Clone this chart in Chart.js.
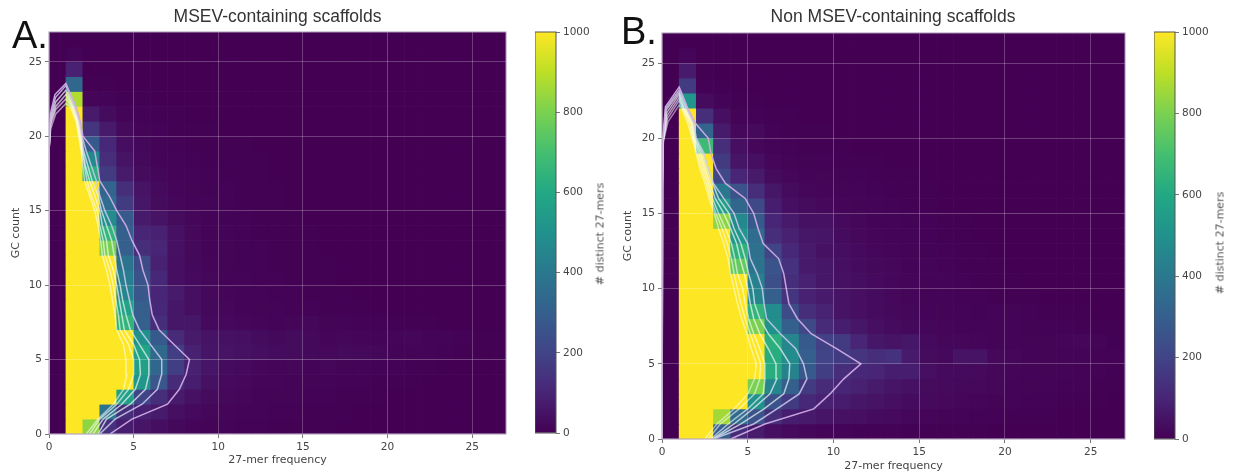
<!DOCTYPE html>
<html>
<head>
<meta charset="utf-8">
<title>27-mer frequency vs GC count</title>
<script src="https://cdn.jsdelivr.net/npm/chart.js@4"></script>
<style>
  body { margin: 0; background: #fff; width: 1233px; height: 476px; overflow: hidden; position: relative; }
  canvas { position: absolute; top: 0; filter: blur(0.65px); }
  .panel { position: absolute; font-family: "Liberation Sans", sans-serif; font-size: 38px; line-height: 38px; color: #111; z-index: 5; }
  .cbar { position: absolute; font-family: "DejaVu Sans", sans-serif; font-size: 11px; color: #555; white-space: nowrap; transform: translate(-50%, -50%) rotate(-90deg); }
</style>
</head>
<body>
<canvas id="heatA" style="left:0;width:555px;height:476px"></canvas>
<canvas id="heatB" style="left:620px;width:546px;height:476px"></canvas>
<canvas id="barA" style="left:535px;width:60px;height:476px"></canvas>
<canvas id="barB" style="left:1154px;width:60px;height:476px"></canvas>
<div class="panel" style="left:12px;top:16px">A.</div>
<div class="panel" style="left:621px;top:12px">B.</div>
<div class="cbar" style="left:600px;top:234px"># distinct 27-mers</div>
<div class="cbar" style="left:1220px;top:243px"># distinct 27-mers</div>
<script>
const xTicks = [0, 5, 10, 15, 20, 25];
const yTicks = [0, 5, 10, 15, 20, 25];
const colorTicks = [0, 200, 400, 600, 800, 1000];
const viridis = ["#440154", "#482576", "#414487", "#355f8d", "#2a788e", "#21918c", "#22a884", "#44bf70", "#7ad151", "#bddf26", "#fde725"];

// rows are GC count 0..26, columns 27-mer frequency 0..26, missing cells are 0
const Y = 1200;
const heatA = [
  [0, Y, 830, 140, 80, 55, 35, 22, 14, 10, 8, 6, 5, 4, 3, 2, 2, 1, 1],
  [0, Y, Y, 380, 130, 90, 70, 40, 25, 18, 14, 10, 8, 6, 5, 4, 3, 2, 1, 1],
  [0, Y, Y, Y, 560, 200, 130, 70, 45, 30, 22, 16, 12, 10, 8, 6, 5, 4, 3, 2, 1, 1],
  [0, Y, Y, Y, Y, 520, 270, 120, 80, 45, 25, 20, 15, 14, 12, 10, 8, 6, 5, 4, 3, 2, 1],
  [0, Y, Y, Y, Y, 560, 330, 180, 90, 55, 30, 25, 18, 14, 16, 12, 18, 10, 8, 6, 5, 4, 2, 1],
  [0, Y, Y, Y, Y, 580, 340, 180, 90, 55, 50, 45, 35, 28, 30, 22, 20, 24, 22, 16, 12, 10, 8, 6, 4, 3, 2],
  [0, Y, Y, Y, Y, 500, 280, 120, 70, 50, 45, 40, 30, 22, 30, 22, 14, 16, 14, 12, 14, 16, 10, 8, 6, 4, 2],
  [0, Y, Y, Y, 650, 300, 130, 60, 60, 25, 20, 18, 14, 12, 14, 18, 10, 8, 6, 5, 4, 3, 2, 1],
  [0, Y, Y, Y, 580, 300, 110, 60, 40, 22, 16, 12, 10, 8, 6, 5, 4, 3, 2, 1, 1],
  [0, Y, Y, Y, 450, 270, 100, 70, 40, 20, 14, 10, 8, 6, 5, 4, 3, 2, 1, 1],
  [0, Y, Y, Y, 420, 260, 110, 40, 25, 16, 12, 8, 6, 5, 4, 3, 2, 1, 1],
  [0, Y, Y, Y, 380, 230, 90, 40, 22, 14, 10, 7, 5, 4, 3, 2, 2, 1],
  [0, Y, Y, 800, 300, 130, 100, 45, 22, 12, 10, 7, 5, 4, 3, 2, 1, 1],
  [0, Y, Y, 650, 300, 100, 90, 45, 20, 10, 8, 6, 4, 3, 2, 2, 1],
  [0, Y, Y, 480, 280, 70, 50, 30, 16, 9, 7, 5, 3, 2, 2, 1],
  [0, Y, Y, 350, 170, 60, 30, 18, 12, 8, 6, 4, 3, 2, 1, 1],
  [0, Y, Y, 320, 130, 50, 24, 14, 10, 7, 5, 4, 3, 2, 1],
  [0, Y, 630, 170, 70, 30, 16, 12, 8, 5, 4, 3, 2, 1],
  [0, Y, 470, 130, 50, 22, 12, 8, 6, 4, 3, 2, 2, 1, 1],
  [0, Y, 280, 110, 36, 16, 8, 6, 4, 3, 2, 2, 1, 1],
  [0, Y, 150, 70, 24, 10, 6, 4, 3, 2, 1, 1],
  [0, Y, 70, 30, 10, 5, 3, 2, 1, 1],
  [0, 880, 15, 8, 4, 2, 1, 1],
  [0, 330, 4, 2, 1],
  [0, 90, 1],
  [0, 8],
  [0]
];
const heatB = [
  [0, Y, Y, 300, 120, 70, 40, 25, 16, 12, 9, 7, 6, 5, 4, 3, 3, 2, 2, 1, 1],
  [0, Y, Y, 860, 350, 250, 130, 80, 70, 55, 45, 40, 30, 25, 18, 14, 10, 8, 6, 5, 4, 3, 2, 1, 1],
  [0, Y, Y, Y, Y, 500, 250, 170, 110, 90, 75, 60, 50, 40, 30, 24, 20, 16, 14, 10, 8, 6, 5, 4, 3, 2, 1],
  [0, Y, Y, Y, Y, 800, 460, 300, 170, 120, 100, 90, 70, 55, 45, 30, 24, 22, 20, 16, 12, 10, 8, 6, 5, 4, 3],
  [0, Y, Y, Y, Y, Y, 620, 440, 280, 180, 130, 110, 100, 80, 80, 40, 25, 24, 24, 18, 14, 12, 10, 8, 6, 5, 4],
  [0, Y, Y, Y, Y, Y, 620, 480, 300, 200, 170, 150, 130, 140, 70, 30, 22, 50, 50, 20, 16, 12, 10, 9, 8, 6, 5],
  [0, Y, Y, Y, Y, Y, 630, 450, 280, 190, 170, 100, 60, 50, 60, 25, 18, 16, 14, 12, 12, 10, 10, 14, 18, 8, 4],
  [0, Y, Y, Y, Y, 800, 500, 300, 220, 120, 80, 60, 40, 30, 22, 18, 14, 12, 10, 9, 8, 7, 6, 5, 4, 3, 2],
  [0, Y, Y, Y, Y, 650, 480, 230, 130, 95, 50, 40, 30, 22, 16, 12, 10, 8, 7, 8, 10, 6, 4, 3, 2, 1, 1],
  [0, Y, Y, Y, Y, 450, 300, 150, 90, 70, 50, 40, 28, 20, 14, 10, 8, 6, 5, 4, 3, 2, 1, 1],
  [0, Y, Y, Y, Y, 430, 240, 130, 90, 60, 45, 35, 25, 18, 14, 10, 8, 6, 4, 3, 2, 1, 1],
  [0, Y, Y, Y, 760, 380, 260, 140, 70, 60, 40, 30, 22, 16, 12, 8, 6, 4, 3, 2, 1, 1],
  [0, Y, Y, Y, 640, 370, 200, 110, 70, 45, 35, 25, 18, 14, 10, 7, 5, 3, 2, 1],
  [0, Y, Y, Y, 520, 350, 130, 90, 60, 55, 30, 20, 14, 10, 8, 5, 3, 2, 1],
  [0, Y, Y, 830, 470, 280, 100, 70, 45, 45, 24, 16, 12, 9, 7, 5, 3, 2, 1],
  [0, Y, Y, 550, 330, 220, 80, 40, 30, 20, 14, 10, 8, 5, 4, 2, 1, 1],
  [0, Y, Y, 400, 250, 130, 60, 30, 18, 14, 10, 8, 6, 4, 3, 2, 1],
  [0, Y, Y, 220, 100, 70, 30, 18, 12, 10, 7, 5, 4, 3, 2, 1],
  [0, Y, Y, 170, 55, 40, 16, 10, 7, 5, 4, 3, 2, 1, 1],
  [0, Y, 680, 130, 40, 16, 8, 6, 4, 3, 2, 1, 1],
  [0, Y, 320, 70, 20, 24, 5, 4, 3, 2, 1],
  [0, Y, 130, 40, 10, 6, 3, 2, 1],
  [0, 520, 30, 12, 4, 2, 1],
  [0, 170, 6, 3, 1],
  [0, 70, 2],
  [0, 15],
  [0]
];

// contour x at GC count 0..22, then the tip and left edge as [x, y]
const contoursA = [
  { x: [3.6, 4.9, 7, 7.7, 8.1, 8.3, 7.4, 6.5, 6.1, 5.95, 5.85, 5.55, 5.35, 4.9, 4.55, 4, 3.55, 3, 2.85, 2.7, 2, 1.85, 1.6], tip: [[1.2, 23], [1, 23.55], [0.35, 22.8], [0.08, 21.5], [0, 19], [0, 0]] },
  { x: [3, 3.9, 5.5, 6.4, 6.65, 6.66, 6, 5.35, 4.95, 4.75, 4.55, 4.4, 4.2, 4, 3.7, 3.3, 3, 2.8, 2.5, 2.2, 1.95, 1.8, 1.5], tip: [[1.15, 23], [1, 23.4], [0.38, 22.6], [0.1, 21.3], [0, 19], [0, 0]] },
  { x: [2.9, 3.4, 4.8, 5.7, 5.9, 5.9, 5.35, 4.8, 4.55, 4.35, 4.2, 4, 3.85, 3.7, 3.4, 3.1, 2.9, 2.55, 2.3, 2.05, 1.9, 1.75, 1.45], tip: [[1, 23.1], [0.4, 22.3], [0.1, 21.2], [0, 19], [0, 0]] },
  { x: [2.6, 3.2, 4.3, 5.1, 5.4, 5.35, 5, 4.45, 4.3, 4.15, 4, 3.8, 3.5, 3.4, 3.15, 3, 2.7, 2.4, 2.15, 2, 1.85, 1.7, 1.4], tip: [[1, 22.8], [0.4, 22], [0.1, 21], [0, 19], [0, 0]] },
  { x: [2.4, 3, 4, 4.7, 5, 5, 4.7, 4.2, 4.1, 3.95, 3.8, 3.6, 3.3, 3.2, 3, 2.85, 2.5, 2.25, 2.1, 1.95, 1.8, 1.65, 1.35], tip: [[1, 22.5], [0.4, 21.8], [0.1, 20.8], [0, 19], [0, 0]] },
  { x: [2.2, 2.9, 3.8, 4.4, 4.6, 4.55, 4.4, 4, 3.9, 3.75, 3.6, 3.4, 3.15, 3.05, 2.9, 2.7, 2.4, 2.1, 2, 1.9, 1.75, 1.6, 1.25], tip: [[1, 22.2], [0.4, 21.5], [0.1, 20.5], [0, 19], [0, 0]] }
];
const contoursB = [
  { x: [4, 6, 8.85, 9.8, 10.6, 11.6, 10.2, 8.7, 7.9, 7.4, 7.25, 7.1, 6.8, 5.9, 5.6, 5.35, 4.85, 3.7, 3.15, 2.85, 2.7, 1.95, 1.5], tip: [[1.15, 23], [1, 23.4], [0.2, 22.1], [0.04, 19.8], [0, 16], [0, 0]] },
  { x: [3, 5.35, 6.7, 8, 8.45, 8.25, 7.8, 6.9, 6.1, 5.95, 5.85, 5.55, 5.15, 5, 4.5, 4.2, 3.6, 3, 2.7, 2.45, 2, 1.85, 1.45], tip: [[1.1, 23], [1, 23.2], [0.22, 22], [0.05, 19.8], [0, 16], [0, 0]] },
  { x: [3, 4.6, 5.95, 7.1, 7.4, 7.45, 6.9, 6.2, 5.7, 5.4, 5.3, 5.05, 4.85, 4.6, 4.2, 3.9, 3.3, 2.95, 2.6, 2.35, 1.95, 1.8, 1.4], tip: [[1, 23.05], [0.25, 21.9], [0.05, 19.8], [0, 16], [0, 0]] },
  { x: [2.95, 4.2, 5.3, 6.3, 6.7, 6.65, 6.2, 5.7, 5.35, 5.15, 5, 4.8, 4.55, 4.35, 4, 3.6, 3.1, 2.8, 2.5, 2.25, 1.9, 1.75, 1.3], tip: [[1, 22.9], [0.28, 21.7], [0.06, 19.8], [0, 16], [0, 0]] },
  { x: [2.85, 3.85, 5, 5.9, 6, 6, 5.7, 5.35, 5.05, 4.85, 4.7, 4.4, 4.25, 4.05, 3.7, 3.3, 2.95, 2.7, 2.4, 2.15, 1.85, 1.7, 1.25], tip: [[1, 22.7], [0.3, 21.5], [0.06, 19.8], [0, 16], [0, 0]] },
  { x: [2.7, 3.4, 4.5, 5.4, 5.7, 5.75, 5.45, 5.15, 4.85, 4.6, 4.4, 4.2, 4.05, 3.8, 3.5, 3.15, 2.85, 2.6, 2.3, 2.05, 1.8, 1.6, 1.2], tip: [[1, 22.5], [0.32, 21.3], [0.08, 19.8], [0, 16], [0, 0]] },
  { x: [2.5, 3.2, 4.2, 5, 5.4, 5.5, 5.2, 4.95, 4.65, 4.4, 4.2, 4, 3.85, 3.6, 3.3, 3.05, 2.75, 2.5, 2.2, 2, 1.75, 1.5, 1.15], tip: [[1, 22.2], [0.35, 21.1], [0.08, 19.8], [0, 16], [0, 0]] }
];
const contourColors = [
  "rgba(208,172,228,0.95)",
  "rgba(205,205,240,0.85)",
  "rgba(225,240,240,0.75)",
  "rgba(255,255,255,0.65)",
  "rgba(255,255,255,0.6)",
  "rgba(255,255,255,0.55)",
  "rgba(255,255,255,0.5)",
];

function hexToRgb(hex) {
  return [1, 3, 5].map((i) => parseInt(hex.slice(i, i + 2), 16));
}

function cellColor(value) {
  const t = Math.min(value / 1000, 1) * (viridis.length - 1);
  const i = Math.min(Math.floor(t), viridis.length - 2);
  const a = hexToRgb(viridis[i]);
  const b = hexToRgb(viridis[i + 1]);
  const c = a.map((v, k) => Math.round(v + (b[k] - v) * (t - i)));
  return `rgb(${c[0]},${c[1]},${c[2]})`;
}

const frame = {
  id: "frame",
  afterDraw(chart, args, opts) {
    const { left, top, width, height } = chart.chartArea;
    chart.ctx.save();
    chart.ctx.strokeStyle = opts.color;
    chart.ctx.lineWidth = 1;
    chart.ctx.strokeRect(left, top, width, height);
    chart.ctx.restore();
  },
};

function setTicks(list) {
  return (axis) => {
    axis.ticks = list.map((value) => ({ value }));
  };
}

function createHeatmap(id, cfg) {
  const cells = [];
  const colors = [];
  for (let row = 0; row < 27; row++) {
    for (let col = 0; col < 27; col++) {
      const v = cfg.heat[row][col] || 0;
      cells.push({ x: col + 0.5, y: [row, row + 1] });
      colors.push(cellColor(v));
    }
  }
  const lines = cfg.contours.map((c, i) => ({
    type: "line",
    data: c.x.map((x, gc) => ({ x, y: gc })).concat(c.tip.map(([x, y]) => ({ x, y }))),
    borderColor: contourColors[i],
    borderWidth: 1.5,
    pointRadius: 0,
    tension: 0,
    order: 0,
  }));
  return new Chart(document.getElementById(id), {
    type: "bar",
    data: {
      datasets: [
        { data: cells, backgroundColor: colors, barPercentage: 1, categoryPercentage: 1, order: 1 },
        ...lines,
      ],
    },
    options: {
      responsive: false,
      animation: false,
      plugins: {
        legend: { display: false },
        tooltip: { enabled: false },
        frame: { color: "#a795b4" },
        title: {
          display: true,
          text: cfg.title,
          color: "#333",
          font: { family: "Liberation Sans", size: 17.5, weight: "normal" },
          padding: { top: cfg.titleTop, bottom: cfg.titleBottom },
        },
      },
      scales: {
        x: {
          type: "linear",
          min: 0,
          max: 27,
          offset: false,
          afterBuildTicks: setTicks(xTicks),
          afterFit: (axis) => { axis.height = cfg.bottom; },
          grid: { offset: false, z: 1, color: "rgba(255,255,255,0.24)", tickColor: "#777", tickLength: 4 },
          border: { display: false },
          ticks: { color: "#444", maxRotation: 0, padding: cfg.tickPad, font: { size: 10.5 } },
          title: { display: true, text: "27-mer frequency", color: "#444", font: { size: 11 }, padding: { top: 0, bottom: cfg.xTitleBottom } },
        },
        y: {
          min: 0,
          max: 27,
          afterBuildTicks: setTicks(yTicks),
          afterFit: (axis) => { axis.width = cfg.left; },
          grid: { z: 1, color: "rgba(255,255,255,0.24)", tickColor: "#777", tickLength: 4 },
          border: { display: false },
          ticks: { color: "#444", padding: 3, font: { size: 10.5 } },
          title: { display: true, text: "GC count", color: "#444", font: { size: 11 }, padding: { top: cfg.yTitleLeft, bottom: 0 } },
        },
        // empty axis on the right so the title stays centred over the plot
        spacer: {
          position: "right",
          afterFit: (axis) => { axis.width = cfg.right; },
          ticks: { display: false },
          grid: { display: false },
          border: { display: false },
        },
      },
    },
    plugins: [frame],
  });
}

function createColorbar(id, bottom) {
  const fill = (ctx) => {
    const area = ctx.chart.chartArea;
    if (!area) return viridis[0];
    const g = ctx.chart.ctx.createLinearGradient(0, area.bottom, 0, area.top);
    viridis.forEach((c, i) => g.addColorStop(i / (viridis.length - 1), c));
    return g;
  };
  return new Chart(document.getElementById(id), {
    type: "bar",
    data: {
      labels: ["scale"],
      datasets: [{ data: [[colorTicks[0], colorTicks[colorTicks.length - 1]]], backgroundColor: fill, barPercentage: 1, categoryPercentage: 1 }],
    },
    options: {
      responsive: false,
      animation: false,
      layout: { padding: { top: 32, bottom } },
      plugins: { legend: { display: false }, tooltip: { enabled: false }, frame: { color: "#555" } },
      scales: {
        x: { display: false },
        y: {
          position: "right",
          min: 0,
          max: 1000,
          afterBuildTicks: setTicks(colorTicks),
          afterFit: (axis) => { axis.width = 39; },
          grid: { drawOnChartArea: false, tickColor: "#777", tickLength: 4 },
          border: { display: false },
          ticks: { color: "#444", padding: 3, font: { size: 10.5 }, callback: (value) => `${value}` },
        },
      },
    },
    plugins: [frame],
  });
}

Chart.defaults.font.family = "DejaVu Sans";

for (const [id, w] of [["heatA", 555], ["heatB", 546], ["barA", 60], ["barB", 60]]) {
  document.getElementById(id).width = w;
  document.getElementById(id).height = 476;
}

createHeatmap("heatA", {
  heat: heatA,
  contours: contoursA,
  title: "MSEV-containing scaffolds",
  left: 49,
  right: 49,
  bottom: 42,
  titleTop: 6.5,
  titleBottom: 4.5,
  tickPad: 3,
  xTitleBottom: 9,
  yTitleLeft: 10,
});
createHeatmap("heatB", {
  heat: heatB,
  contours: contoursB,
  title: "Non MSEV-containing scaffolds",
  left: 42,
  right: 41,
  bottom: 37,
  titleTop: 6.5,
  titleBottom: 5.5,
  tickPad: 3,
  xTitleBottom: 3,
  yTitleLeft: 2,
});
createColorbar("barA", 43);
createColorbar("barB", 37);
</script>
</body>
</html>
